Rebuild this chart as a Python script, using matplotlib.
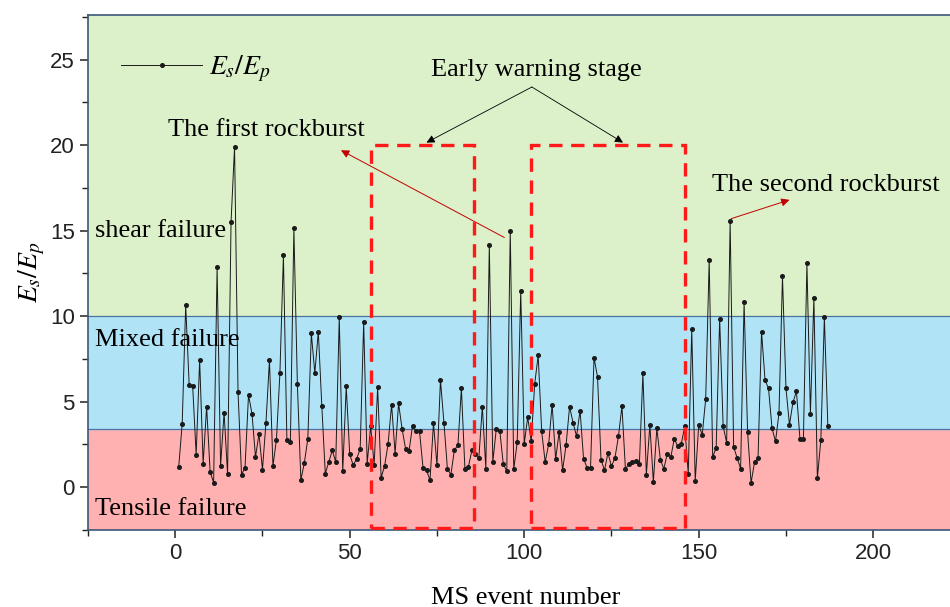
import matplotlib.pyplot as plt
from matplotlib.patches import Rectangle
from matplotlib.ticker import MultipleLocator

plt.rcParams['mathtext.fontset'] = 'stix'

# Es/Ep ratio for each MS event (1..187)
es_ep = [
    1.18, 3.70, 10.64, 5.97, 5.91, 1.90, 7.42, 1.38, 4.71, 0.89,
    0.27, 12.85, 1.24, 4.36, 0.76, 15.52, 19.90, 5.54, 0.74, 1.14,
    5.39, 4.30, 1.76, 3.12, 1.03, 3.76, 7.42, 1.24, 2.77, 6.67,
    13.55, 2.73, 2.64, 15.14, 6.03, 0.41, 1.43, 2.83, 8.99, 6.67,
    9.09, 4.77, 0.79, 1.47, 2.15, 1.47, 9.94, 0.93, 5.89, 1.92,
    1.28, 1.67, 2.25, 9.65, 1.38, 3.55, 1.32, 5.83, 0.56, 1.24,
    2.54, 4.83, 1.96, 4.90, 3.41, 2.25, 2.11, 3.60, 3.26, 3.26,
    1.14, 0.99, 0.41, 3.74, 1.28, 6.26, 3.76, 1.05, 0.74, 2.19,
    2.44, 5.77, 1.08, 1.18, 2.15, 1.96, 1.72, 4.71, 1.08, 14.17,
    1.47, 3.41, 3.31, 1.34, 0.95, 14.98, 1.05, 2.64, 11.49, 2.54,
    4.09, 2.67, 6.03, 7.71, 3.26, 1.47, 2.50, 4.83, 1.63, 3.22,
    0.99, 2.48, 4.71, 3.76, 2.97, 4.48, 1.67, 1.14, 1.14, 7.58,
    6.45, 1.61, 0.99, 2.00, 1.22, 1.72, 2.97, 4.73, 1.05, 1.38,
    1.47, 1.53, 1.34, 6.65, 0.74, 3.64, 0.31, 3.45, 1.61, 1.08,
    1.96, 1.76, 2.83, 2.38, 2.54, 3.55, 0.79, 9.22, 0.37, 3.64,
    3.06, 5.15, 13.29, 1.76, 2.31, 9.85, 3.57, 2.60, 15.56, 2.35,
    1.71, 1.08, 10.83, 3.22, 0.25, 1.47, 1.71, 9.09, 6.26, 5.77,
    3.45, 2.67, 4.32, 12.33, 5.79, 3.64, 4.96, 5.60, 2.83, 2.83,
    13.10, 4.28, 11.07, 0.54, 2.77, 9.94, 3.57,
]
events = list(range(1, len(es_ep) + 1))

# failure-type boundaries
tensile_top = 3.4
mixed_top = 10.0

# early warning windows (start, end) in event number
warning_windows = [(56, 85.5), (102, 146)]

xmin, xmax = -25, 222
ymin, ymax = -2.5, 27.6

fig = plt.figure(figsize=(9.5, 6.07), dpi=100)
ax = fig.add_axes([0.0926, 0.127, 0.9074, 0.848])

ax.axhspan(ymin, tensile_top, color='#ffb0b0', zorder=0)
ax.axhspan(tensile_top, mixed_top, color='#b1e3f6', zorder=0)
ax.axhspan(mixed_top, ymax, color='#dcf0c9', zorder=0)
for yb in (tensile_top, mixed_top):
    ax.axhline(yb, color='#4a72a0', lw=0.9, zorder=1)

ax.plot(events, es_ep, color='#1a1a1a', lw=0.7, marker='o', ms=2.6,
        label='$E_s/E_p$', zorder=3)

for x0, x1 in warning_windows:
    ax.add_patch(Rectangle((x0, -2.4), x1 - x0, 20.0 + 2.4, fill=False,
                           ec='#ff1a1a', lw=2.4, ls=(0, (4, 2.6)), zorder=4))

serif = 'Liberation Serif'
fs = 19
ax.text(-23, 15.0, 'shear failure', fontsize=fs, family=serif, va='center')
ax.text(-23, 8.6, 'Mixed failure', fontsize=fs, family=serif, va='center')
ax.text(-23, -1.25, 'Tensile failure', fontsize=fs, family=serif, va='center')

ax.text(103.5, 24.4, 'Early warning stage', fontsize=fs, family=serif,
        ha='center', va='center')
for tx in (72, 128.3):
    ax.annotate('', xy=(tx, 20.15), xytext=(102.2, 23.4),
                arrowprops=dict(arrowstyle='-|>', color='black', lw=0.6,
                                mutation_scale=12, shrinkA=0, shrinkB=0))

ax.text(26, 20.9, 'The first rockburst', fontsize=fs, family=serif,
        ha='center', va='center')
ax.annotate('', xy=(47.5, 19.7), xytext=(94.3, 14.6),
            arrowprops=dict(arrowstyle='-|>', color='#c00000', lw=0.7,
                            mutation_scale=12, shrinkA=0, shrinkB=0))

ax.text(186.5, 17.65, 'The second rockburst', fontsize=fs, family=serif,
        ha='center', va='center')
ax.annotate('', xy=(176, 16.8), xytext=(159.3, 15.7),
            arrowprops=dict(arrowstyle='-|>', color='#c00000', lw=0.7,
                            mutation_scale=12, shrinkA=0, shrinkB=0))

ax.set_xlim(xmin, xmax)
ax.set_ylim(ymin, ymax)
ax.xaxis.set_major_locator(MultipleLocator(50))
ax.xaxis.set_minor_locator(MultipleLocator(25))
ax.yaxis.set_major_locator(MultipleLocator(5))
ax.yaxis.set_minor_locator(MultipleLocator(2.5))
ax.tick_params(which='both', direction='out', colors='#222222',
               labelsize=16, top=False, right=False)
ax.tick_params(which='major', length=6, width=1.1)
ax.tick_params(which='minor', length=4, width=1.0)
for lbl in ax.get_xticklabels() + ax.get_yticklabels():
    lbl.set_family('Liberation Sans')

for side in ('left', 'top', 'bottom'):
    ax.spines[side].set_color('#3b5878')
    ax.spines[side].set_linewidth(1.2)
ax.spines['right'].set_visible(False)

ax.set_xlabel('MS event number', fontsize=fs, family=serif, labelpad=16)
ax.xaxis.set_label_coords(0.508, -0.11)
ax.set_ylabel('$E_s/E_p$', fontsize=20, labelpad=2)

ax.legend(loc='upper left', frameon=False, fontsize=20, handlelength=2.9,
          handletextpad=0.25, bbox_to_anchor=(0.0, 0.992), borderaxespad=0.8)

fig.savefig('out.png', dpi=100)
